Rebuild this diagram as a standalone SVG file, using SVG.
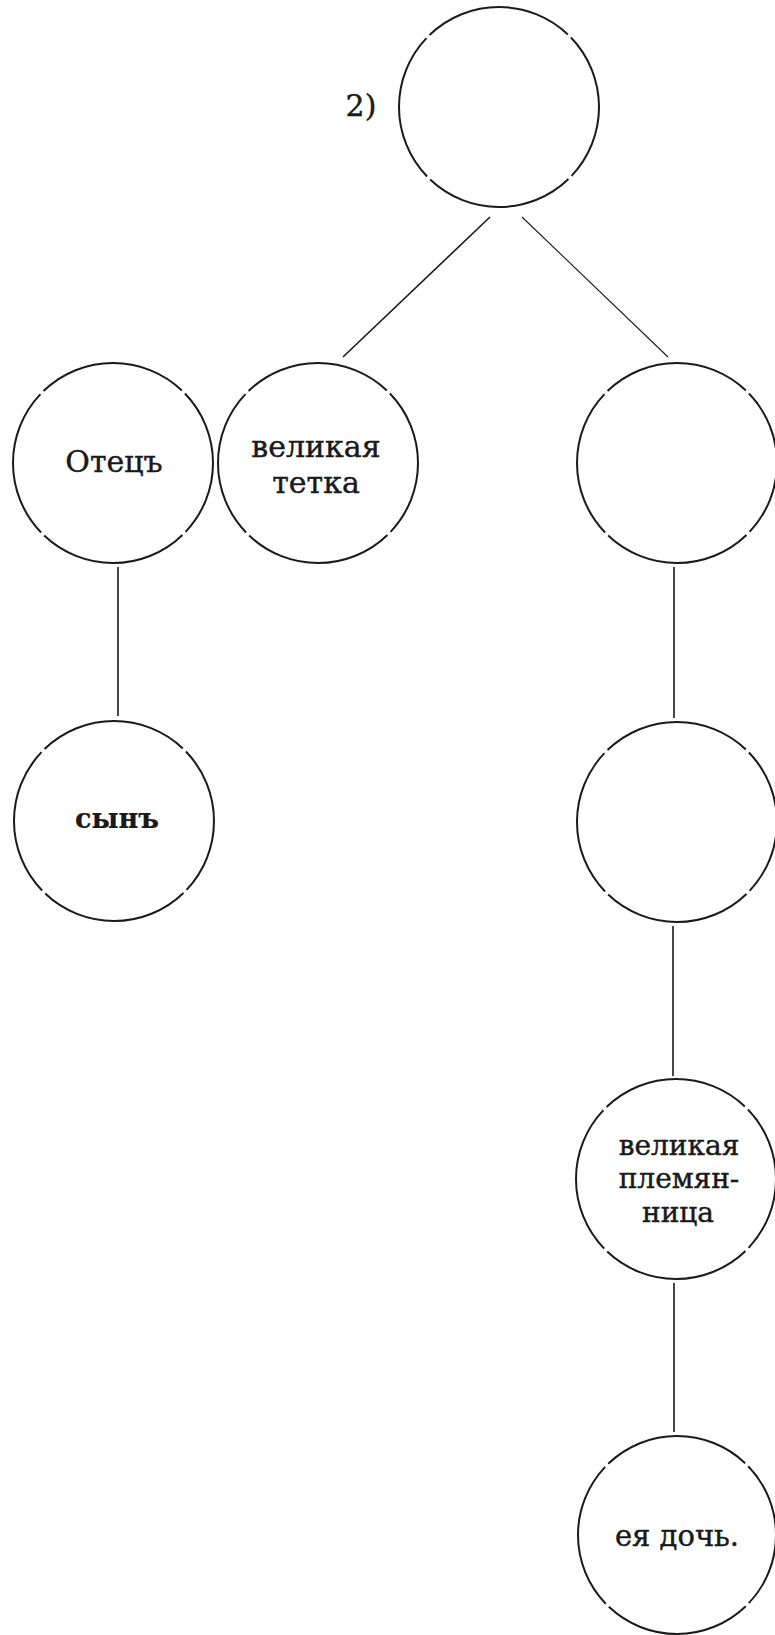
<svg xmlns="http://www.w3.org/2000/svg" width="775" height="1635" viewBox="0 0 775 1635">
<style>
.node{fill:none;stroke:#1a1a1a;stroke-width:2;stroke-dasharray:43.5 2.5 87.5 2.5 87.5 2.5 87.5 2.5 44;}
.edge{stroke:#1a1a1a;stroke-width:1.6;fill:none;}
.thin{stroke-width:1.1;}
.lbl{font-family:"DejaVu Serif","Liberation Serif",serif;font-size:30px;fill:#1a1a1a;stroke:#1a1a1a;stroke-width:0.45;text-anchor:middle;}
</style>
<rect width="775" height="1635" fill="#ffffff"/>
<g id="connectors">
<line class="edge" x1="490" y1="217" x2="343" y2="357"/>
<line class="edge thin" x1="522" y1="217" x2="668" y2="357"/>
<line class="edge" x1="118" y1="567" x2="118" y2="716"/>
<line class="edge" x1="674" y1="567" x2="674" y2="718"/>
<line class="edge" x1="673" y1="926" x2="673" y2="1076"/>
<line class="edge" x1="674" y1="1283" x2="674" y2="1432"/>
</g>
<g id="node-root">
<circle class="node" cx="499" cy="107" r="100" pathLength="360"/>
<text x="361" y="116" class="lbl">2)</text>
</g>
<g id="node-otets">
<circle class="node" cx="113" cy="463" r="100" pathLength="360"/>
<text x="114" y="472" class="lbl">Отецъ</text>
</g>
<g id="node-tetka">
<circle class="node" cx="318" cy="463" r="100" pathLength="360"/>
<text x="316" y="457" class="lbl">великая</text>
<text x="316" y="493" class="lbl">тетка</text>
</g>
<g id="node-right1">
<circle class="node" cx="677" cy="463" r="100" pathLength="360"/>
</g>
<g id="node-syn">
<circle class="node" cx="114" cy="821" r="100" pathLength="360"/>
<text x="117" y="828" class="lbl" style="font-weight:bold;font-size:27px;stroke-width:0.2">сынъ</text>
</g>
<g id="node-right2">
<circle class="node" cx="677" cy="822" r="100" pathLength="360"/>
</g>
<g id="node-plemyannitsa">
<circle class="node" cx="676" cy="1179" r="100" pathLength="360"/>
<text x="679" y="1155" class="lbl" style="font-size:28px">великая</text>
<text x="679" y="1188" class="lbl" style="font-size:28px">племян-</text>
<text x="678" y="1222" class="lbl" style="font-size:28px">ница</text>
</g>
<g id="node-doch">
<circle class="node" cx="677" cy="1535" r="99" pathLength="360"/>
<text x="677" y="1546" class="lbl" style="font-size:29px">ея дочь.</text>
</g>
</svg>
